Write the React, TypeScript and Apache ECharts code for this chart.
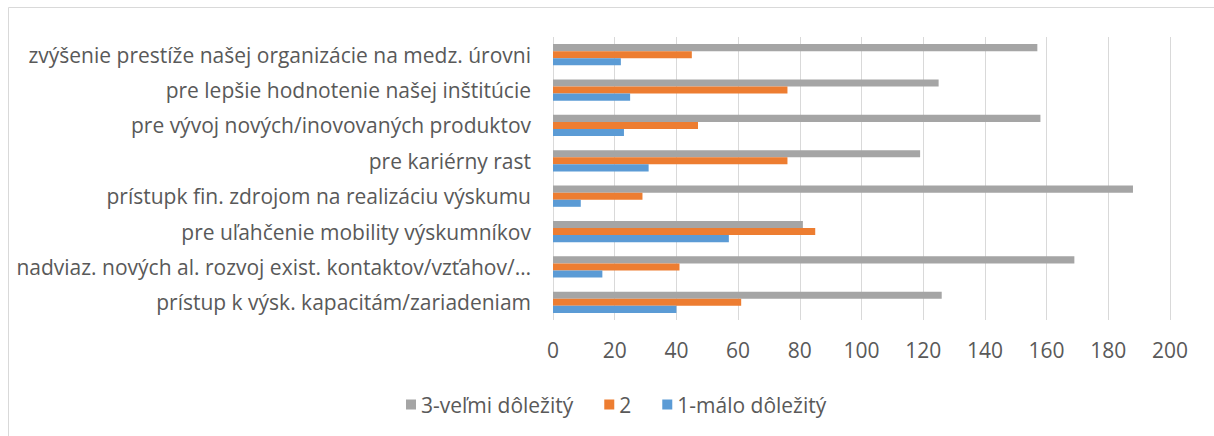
import React, { useEffect, useRef } from "react";
import * as echarts from "echarts";

const categories = [
  "prístup k výsk. kapacitám/zariadeniam",
  "nadviaz. nových al. rozvoj exist. kontaktov/vzťahov/…",
  "pre uľahčenie mobility výskumníkov",
  "prístupk fin. zdrojom na realizáciu výskumu",
  "pre kariérny rast",
  "pre vývoj nových/inovovaných produktov",
  "pre lepšie hodnotenie našej inštitúcie",
  "zvýšenie prestíže našej organizácie na medz. úrovni",
];
const seriesHigh = [126, 169, 81, 188, 119, 158, 125, 157];
const seriesMid = [61, 41, 85, 29, 76, 47, 76, 45];
const seriesLow = [40, 16, 57, 9, 31, 23, 25, 22];
const names = ["3-veľmi dôležitý", "2", "1-málo dôležitý"];
const colors = ["#a5a5a5", "#ed7d31", "#5b9bd5"];

const FONT = "Open Sans";
const TEXT = "#595959";

export default function App() {
  const ref = useRef<HTMLDivElement>(null);
  useEffect(() => {
    const chart = echarts.init(ref.current!, null, { renderer: "svg" });
    const data = [seriesHigh, seriesMid, seriesLow];
    chart.setOption({
      animation: false,
      textStyle: { fontFamily: FONT },
      graphic: [
        {
          type: "rect",
          shape: { x: 8.5, y: 7.5, width: 1230, height: 450 },
          style: { fill: "none", stroke: "#d9d9d9", lineWidth: 1 },
          silent: true,
        },
      ],
      grid: { left: 553, right: 44, top: 37, bottom: 116 },
      xAxis: {
        type: "value",
        min: 0,
        max: 200,
        interval: 20,
        axisLine: { show: false },
        axisTick: { show: false },
        splitLine: { lineStyle: { color: "#d9d9d9", width: 1 } },
        axisLabel: { color: TEXT, fontSize: 21, fontFamily: FONT, margin: 19 },
      },
      yAxis: {
        type: "category",
        data: categories,
        axisLine: { show: false },
        axisTick: { show: false },
        axisLabel: { color: TEXT, fontSize: 21, fontFamily: FONT, margin: 22 },
      },
      legend: {
        data: names,
        left: 406,
        top: 394,
        padding: 0,
        itemWidth: 10,
        itemHeight: 10,
        itemGap: 31,
        icon: "rect",
        textStyle: { color: TEXT, fontSize: 21, fontFamily: FONT },
      },
      series: data.map((d, i) => ({
        name: names[i],
        type: "bar",
        data: d,
        barGap: "0%",
        barCategoryGap: "40%",
        itemStyle: { color: colors[i] },
      })),
    });
    return () => chart.dispose();
  }, []);
  return (
    <div
      ref={ref}
      style={{ position: "fixed", left: 0, top: 0, width: 1214, height: 436, background: "#fff" }}
    />
  );
}
